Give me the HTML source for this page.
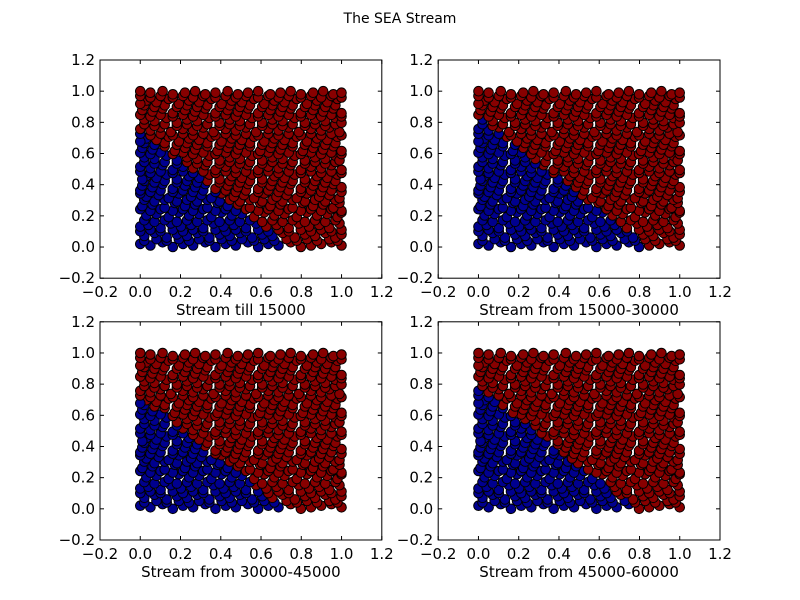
<!DOCTYPE html>
<html>
<head>
<meta charset="utf-8">
<style>
html,body{margin:0;padding:0;background:#fff;}
svg{display:block;font-family:"DejaVu Sans","Liberation Sans",sans-serif;}
</style>
</head>
<body>
<svg id="fig" width="800" height="600" viewBox="0 0 800 600">
<rect x="0" y="0" width="800" height="600" fill="#fff"/>
<text x="400" y="23" text-anchor="middle" font-size="14">The SEA Stream</text>
</svg>
<script>
// Point coordinates (hundredths, scaled by /99) as "xxyy" tokens
const pointTokens = (
"0002 0501 1103 1600 2102 2601 3203 3700 4202 4701 5303 5800 6302 6801 7403 7900 8401 8902 9403 9901 " +
"0204 0805 1304 1905 2404 2905 3404 4005 4504 5005 5604 6105 6604 7205 7704 8205 8704 9305 9704 " +
"0207 0709 1306 1808 2307 2809 3406 3908 4407 4909 5506 6008 6507 7009 7606 8108 8607 9109 9606 9908 " +
"0010 0511 1010 1611 2110 2611 3110 3711 4210 4711 5210 5811 6310 6811 7310 7911 8410 8911 9410 9911 " +
"0013 0414 1012 1515 2013 2514 3112 3615 4113 4614 5212 5715 6213 6714 7312 7815 8313 8814 9312 9815 " +
"0217 0716 1217 1816 2317 2816 3317 3916 4417 4916 5417 6016 6517 7016 7517 8116 8617 9116 9617 " +
"0320 0821 1419 1922 2420 2921 3519 4022 4520 5021 5619 6122 6620 7121 7719 8222 8720 9221 9719 9922 " +
"0024 0523 1024 1623 2124 2623 3124 3723 4224 4723 5224 5823 6324 6823 7324 7923 8424 8923 9424 9923 " +
"0126 0627 1225 1728 2226 2727 3325 3828 4326 4827 5425 5928 6426 6927 7525 8028 8526 9027 9525 9828 " +
"0230 0729 1230 1829 2330 2829 3330 3929 4430 4929 5430 6029 6530 7029 7530 8129 8630 9129 9630 " +
"0332 0933 1431 1934 2532 3033 3531 4034 4632 5133 5631 6134 6732 7233 7731 8234 8832 9333 9831 0034 " +
"0036 0535 1036 1635 2136 2635 3136 3735 4236 4735 5236 5835 6336 6835 7336 7935 8436 8935 9436 9935 " +
"0139 0638 1140 1637 2239 2738 3240 3737 4339 4838 5340 5837 6439 6938 7440 7937 8539 9038 9540 9938 " +
"0242 0741 1242 1841 2342 2841 3342 3941 4442 4941 5442 6041 6542 7041 7542 8141 8642 9141 9642 " +
"0345 0844 1346 1843 2445 2944 3446 3943 4545 5044 5546 6043 6645 7144 7646 8143 8745 9244 9746 0143 " +
"0048 0547 1048 1647 2148 2647 3148 3747 4248 4747 5248 5847 6348 6847 7348 7947 8448 8947 9448 9947 " +
"0051 0550 1152 1649 2151 2650 3252 3749 4251 4750 5352 5849 6351 6850 7452 7949 8451 8950 9452 9949 " +
"0254 0753 1254 1853 2354 2853 3354 3953 4454 4953 5454 6053 6554 7053 7554 8153 8654 9153 9654 " +
"0257 0756 1358 1855 2357 2856 3458 3955 4457 4956 5558 6055 6557 7056 7658 8155 8657 9156 9658 9855 " +
"0060 0559 1060 1659 2160 2659 3160 3759 4260 4759 5260 5859 6360 6859 7360 7959 8460 8959 9460 9959 " +
"0163 0662 1264 1761 2263 2762 3364 3861 4363 4862 5464 5961 6463 6962 7564 8061 8563 9062 9564 9961 " +
"0266 0765 1266 1865 2366 2865 3366 3965 4466 4965 5466 6065 6566 7065 7566 8165 8666 9165 9666 " +
"0369 0868 1470 1967 2469 2968 3570 4067 4569 5068 5670 6167 6669 7168 7770 8267 8769 9268 9770 0067 " +
"0072 0571 1072 1671 2172 2671 3172 3771 4272 4771 5272 5871 6372 6871 7372 7971 8472 8971 9472 9971 " +
"0075 0574 1076 1573 2175 2674 3176 3673 4275 4774 5276 5773 6375 6874 7376 7873 8475 8974 9376 9873 " +
"0278 0777 1278 1877 2378 2877 3378 3977 4478 4977 5478 6077 6578 7077 7578 8177 8678 9177 9678 " +
"0281 0780 1382 1879 2381 2880 3482 3979 4481 4980 5582 6079 6581 7080 7682 8179 8681 9180 9682 9979 " +
"0084 0583 1084 1683 2184 2683 3184 3783 4284 4783 5284 5883 6384 6883 7384 7983 8484 8983 9484 9983 " +
"0187 0686 1188 1685 2287 2786 3288 3785 4387 4886 5388 5885 6487 6986 7488 7985 8587 9086 9588 9985 " +
"0290 0789 1290 1889 2390 2889 3390 3989 4490 4989 5490 6089 6590 7089 7590 8189 8690 9189 9690 " +
"0393 0892 1494 1991 2493 2992 3594 4091 4593 5092 5694 6191 6693 7192 7794 8291 8793 9292 9794 0091 " +
"0096 0595 1096 1695 2196 2695 3196 3795 4296 4795 5296 5895 6396 6895 7396 7995 8496 8995 9496 9995 " +
"0099 0598 1199 1697 2298 2799 3297 3798 4399 4897 5398 5899 6497 6998 7499 7997 8598 9099 9597 9998"
).split(" ");
const xs = pointTokens.map(t => +t.slice(0,2) / 99);
const ys = pointTokens.map(t => +t.slice(2,4) / 99);
// SEA concept thresholds per panel (class = f1 + f2 <= theta -> blue)
const thresholds = [0.74, 0.84, 0.72, 0.78];
const panelTitles = ["Stream till 15000","Stream from 15000-30000","Stream from 30000-45000","Stream from 45000-60000"];
const tickValues = [-0.2,0.0,0.2,0.4,0.6,0.8,1.0,1.2];
const tickLabels = ["\u22120.2","0.0","0.2","0.4","0.6","0.8","1.0","1.2"];

const NS = "http://www.w3.org/2000/svg";
const fig = document.getElementById("fig");
const boxes = [
  {l:100,r:381.8,t:60,b:278.2},
  {l:438.2,r:720,t:60,b:278.2},
  {l:100,r:381.8,t:321.8,b:540},
  {l:438.2,r:720,t:321.8,b:540}
];
function mk(tag, attrs, parent){
  const e = document.createElementNS(NS, tag);
  for (const k in attrs) e.setAttribute(k, attrs[k]);
  (parent||fig).appendChild(e);
  return e;
}
boxes.forEach((B, p) => {
  const g = mk("g", {});
  
  
  const sx = v => B.l + (v + 0.2) / 1.4 * (B.r - B.l);
  const sy = v => B.b - (v + 0.2) / 1.4 * (B.b - B.t);
  for (let i = 0; i < xs.length; i++) {
    const blue = xs[i] + ys[i] <= thresholds[p];
    const c = mk("circle", {cx:sx(xs[i]).toFixed(1), cy:sy(ys[i]).toFixed(1), r:4.8,
      fill: blue ? "#00008f" : "#880000", stroke:"#000", "stroke-width":1}, g);
    
    
  }
  const frame = mk("rect", {x:B.l, y:B.t, width:B.r-B.l, height:B.b-B.t, fill:"none", stroke:"#000", "stroke-width":1}, g);
  
  
  tickValues.forEach((v, k) => {
    const x = sx(v), y = sy(v);
    mk("line", {x1:x, y1:B.b, x2:x, y2:B.b-4, stroke:"#000"}, g);
    mk("line", {x1:x, y1:B.t, x2:x, y2:B.t+4, stroke:"#000"}, g);
    mk("line", {x1:B.l, y1:y, x2:B.l+4, y2:y, stroke:"#000"}, g);
    mk("line", {x1:B.r, y1:y, x2:B.r-4, y2:y, stroke:"#000"}, g);
    const tx = mk("text", {x:x, y:B.b+19, "text-anchor":"middle", "font-size":15}, g);
    tx.textContent = tickLabels[k];
    
    
    const ty = mk("text", {x:B.l-5, y:y+5, "text-anchor":"end", "font-size":15}, g);
    ty.textContent = tickLabels[k];
    
    
  });
  const xl = mk("text", {x:(B.l+B.r)/2, y:B.b+37, "text-anchor":"middle", "font-size":15}, g);
  xl.textContent = panelTitles[p];
  
  
});
</script>
</body>
</html>
